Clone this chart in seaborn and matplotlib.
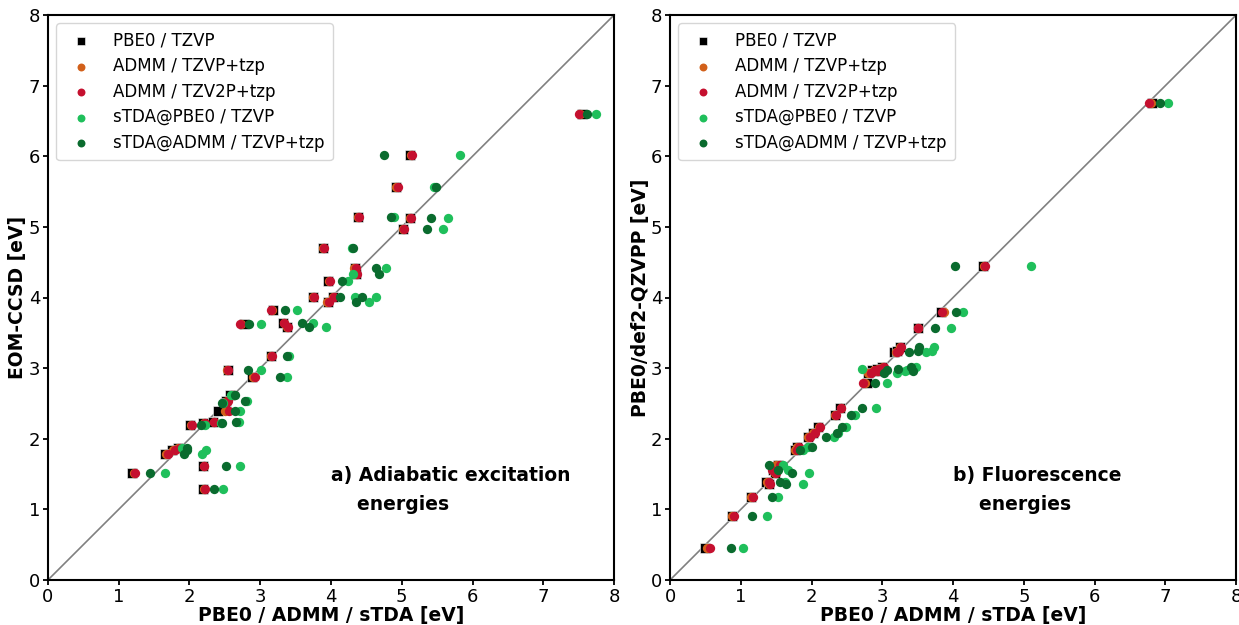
import matplotlib
matplotlib.use("Agg")
import matplotlib.pyplot as plt
import seaborn as sns

# method labels / colours
methods = ["PBE0 / TZVP", "ADMM / TZVP+tzp", "ADMM / TZV2P+tzp",
           "sTDA@PBE0 / TZVP", "sTDA@ADMM / TZVP+tzp"]
colors = ["#000000", "#d2601a", "#c5102f", "#1fbf5b", "#0a6b2e"]
markers = ["s", "o", "o", "o", "o"]

# a) adiabatic excitation energies, reference EOM-CCSD
ad_ref = [6.60, 6.02, 5.57, 5.14, 5.13, 4.97, 4.70, 4.42, 4.33, 4.24, 4.01, 4.01,
          3.93, 3.83, 3.63, 3.64, 3.58, 3.17, 2.97, 2.88, 2.62, 2.53, 2.51, 2.40,
          2.22, 2.24, 2.20, 1.87, 1.84, 1.78, 1.62, 1.52, 1.29]
ad_pbe0 = [7.55, 5.12, 4.92, 4.38, 5.12, 5.02, 3.89, 4.34, 4.36, 3.96, 3.75, 4.03,
           3.96, 3.18, 2.77, 3.32, 3.38, 3.15, 2.54, 2.88, 2.57, 2.52, 2.50, 2.41,
           2.19, 2.33, 2.01, 1.84, 1.75, 1.65, 2.19, 1.19, 2.19]
ad_admm = [7.52, 5.13, 4.92, 4.38, 5.12, 5.02, 3.88, 4.33, 4.36, 3.97, 3.75, 4.03,
           3.95, 3.16, 2.73, 3.33, 3.38, 3.15, 2.53, 2.90, 2.60, 2.53, 2.50, 2.50,
           2.20, 2.34, 2.02, 1.84, 1.77, 1.67, 2.20, 1.21, 2.20]
ad_admm2 = [7.50, 5.15, 4.94, 4.40, 5.13, 5.03, 3.90, 4.36, 4.37, 3.98, 3.76, 4.04,
            3.97, 3.15, 2.71, 3.34, 3.39, 3.17, 2.54, 2.92, 2.63, 2.55, 2.52, 2.56,
            2.22, 2.35, 2.03, 1.86, 1.80, 1.70, 2.21, 1.23, 2.22]
ad_stda_pbe0 = [7.75, 5.82, 5.46, 4.89, 5.65, 5.58, 4.30, 4.78, 4.31, 4.24, 4.34, 4.64,
                4.54, 3.52, 3.01, 3.75, 3.93, 3.41, 3.01, 3.38, 2.58, 2.82, 2.48, 2.72,
                2.45, 2.70, 2.22, 1.89, 2.24, 2.17, 2.71, 1.65, 2.47]
ad_stda_admm = [7.62, 4.75, 5.48, 4.85, 5.41, 5.36, 4.31, 4.63, 4.68, 4.16, 4.13, 4.44,
                4.35, 3.35, 2.84, 3.59, 3.69, 3.38, 2.83, 3.28, 2.64, 2.78, 2.46, 2.64,
                2.46, 2.66, 2.16, 1.97, 1.97, 1.92, 2.51, 1.44, 2.35]

# b) fluorescence energies, reference PBE0/def2-QZVPP
fl_ref = [6.76, 4.44, 3.80, 3.57, 3.30, 3.23, 3.24, 3.02, 2.97, 2.93, 2.99, 2.96,
          2.79, 2.44, 2.34, 2.17, 2.08, 2.03, 1.89, 1.84, 1.63, 1.56, 1.52, 1.39,
          1.36, 1.18, 0.91, 0.45]
fl_pbe0 = [6.81, 4.42, 3.83, 3.50, 3.25, 3.17, 3.21, 3.00, 2.86, 2.80, 2.93, 2.92,
           2.78, 2.40, 2.33, 2.09, 2.02, 1.95, 1.80, 1.77, 1.53, 1.46, 1.48, 1.36,
           1.40, 1.14, 0.88, 0.49]
fl_admm = [6.80, 4.44, 3.87, 3.50, 3.25, 3.19, 3.22, 3.01, 2.88, 2.80, 2.94, 2.93,
           2.76, 2.41, 2.33, 2.10, 2.02, 1.95, 1.80, 1.76, 1.50, 1.47, 1.49, 1.37,
           1.40, 1.15, 0.88, 0.52]
fl_admm2 = [6.77, 4.45, 3.85, 3.51, 3.27, 3.21, 3.23, 3.02, 2.90, 2.84, 2.95, 2.94,
            2.73, 2.42, 2.35, 2.12, 2.05, 1.98, 1.82, 1.80, 1.55, 1.44, 1.50, 1.40,
            1.41, 1.17, 0.91, 0.57]
fl_stda_pbe0 = [7.03, 5.10, 4.14, 3.97, 3.73, 3.62, 3.70, 3.48, 3.35, 3.21, 2.71, 3.32,
                3.07, 2.91, 2.62, 2.48, 2.38, 2.32, 1.95, 1.88, 1.60, 1.67, 1.96, 1.62,
                1.88, 1.53, 1.37, 1.03]
fl_stda_admm = [6.93, 4.02, 4.04, 3.74, 3.52, 3.38, 3.50, 3.40, 3.06, 3.02, 3.22, 3.43,
                2.90, 2.71, 2.56, 2.43, 2.36, 2.20, 2.01, 1.84, 1.40, 1.53, 1.73, 1.55,
                1.64, 1.44, 1.16, 0.86]

panels = [
    (ad_ref, [ad_pbe0, ad_admm, ad_admm2, ad_stda_pbe0, ad_stda_admm],
     "EOM-CCSD [eV]", "a) Adiabatic excitation\n    energies"),
    (fl_ref, [fl_pbe0, fl_admm, fl_admm2, fl_stda_pbe0, fl_stda_admm],
     "PBE0/def2-QZVPP [eV]", "b) Fluorescence\n    energies"),
]

fig = plt.figure(figsize=(12.39, 6.25), dpi=100)
axes = [fig.add_axes([0.0387, 0.072, 0.4569, 0.904]),
        fig.add_axes([0.5408, 0.072, 0.4569, 0.904])]

for ax, (ref, xs, ylabel, note) in zip(axes, panels):
    ax.plot([0, 8], [0, 8], color="grey", lw=1.2, zorder=1)
    for xv, name, col, mk in zip(xs, methods, colors, markers):
        if mk == "s":
            sns.scatterplot(x=xv, y=ref, ax=ax, marker=mk, color=col, s=58,
                            edgecolor="white", linewidth=0.4, label=name, zorder=2)
        else:
            sns.scatterplot(x=xv, y=ref, ax=ax, marker=mk, color=col, s=45,
                            linewidth=0, label=name, zorder=3)
    ax.set_xlim(0, 8)
    ax.set_ylim(0, 8)
    ax.set_xticks(range(9))
    ax.set_yticks(range(9))
    ax.tick_params(labelsize=13, length=3.5, width=1.3, pad=2)
    for sp in ax.spines.values():
        sp.set_linewidth(1.5)
    ax.set_xlabel("PBE0 / ADMM / sTDA [eV]", fontsize=13.5, fontweight="bold", labelpad=0)
    ax.set_ylabel(ylabel, fontsize=13.5, fontweight="bold", labelpad=1)
    ax.text(4.0, 1.62, note, fontsize=13.5, fontweight="bold", va="top",
            ha="left", linespacing=1.7)
    ax.legend(loc="upper left", fontsize=12, markerscale=0.85, handletextpad=0.9,
              borderpad=0.5, labelspacing=0.45)

fig.savefig("out.png", dpi=100)
